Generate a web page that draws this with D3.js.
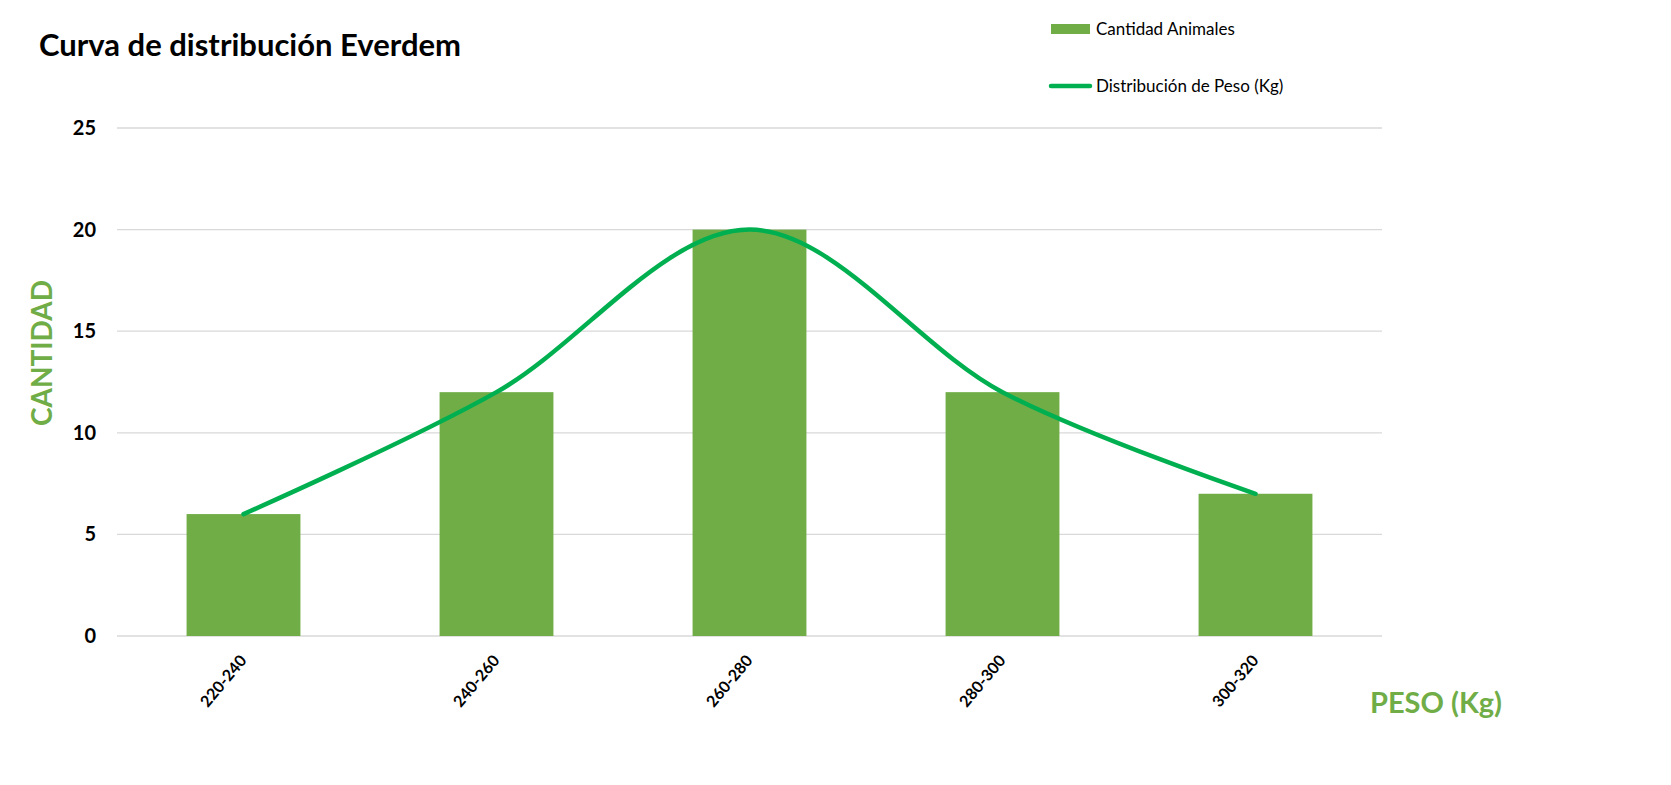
<!DOCTYPE html>
<html>
<head>
<meta charset="utf-8">
<script src="https://cdn.jsdelivr.net/npm/d3@7/dist/d3.min.js"></script>
<style>
  html, body { margin: 0; padding: 0; background: #fff; }
  svg { display: block; font-family: Lato, "Open Sans", sans-serif; }
</style>
</head>
<body>
<svg id="chart" width="1671" height="785"></svg>
<script>
const categories = ["220-240", "240-260", "260-280", "280-300", "300-320"];
const cantidad = [6, 12, 20, 12, 7];
const distribucion = [6, 12, 20, 12, 7];
const yTicks = [0, 5, 10, 15, 20, 25];
const title = "Curva de distribución Everdem";
const seriesNames = ["Cantidad Animales", "Distribución de Peso (Kg)"];
const yTitle = "CANTIDAD";
const xTitle = "PESO (Kg)";

const barColor = "#70AD47";
const lineColor = "#00B050";
const gridColor = "#D9D9D9";

const svg = d3.select("#chart");
const plot = { left: 117, right: 1382, top: 128, bottom: 636 };

const x = d3.scaleBand().domain(categories).range([plot.left, plot.right])
  .paddingInner(0.55).paddingOuter(0.275);
const y = d3.scaleLinear().domain([0, 25]).range([plot.bottom, plot.top]);

// Title
svg.append("text").attr("x", 39).attr("y", 56)
  .attr("font-size", 31).attr("font-weight", 700).attr("fill", "#000")
  .text(title);

// Gridlines
svg.append("g").selectAll("line").data(yTicks).join("line")
  .attr("x1", plot.left).attr("x2", plot.right)
  .attr("y1", d => y(d)).attr("y2", d => y(d))
  .attr("stroke", gridColor).attr("stroke-width", 1.3);

// Y axis labels
const yAxis = svg.append("g").attr("transform", `translate(${plot.left - 21},0)`)
  .call(d3.axisLeft(y).tickValues(yTicks).tickSize(0).tickPadding(0));
yAxis.select(".domain").remove();
yAxis.selectAll("text").attr("font-family", "Lato, sans-serif")
  .attr("font-size", 20).attr("font-weight", 700).attr("fill", "#000");

// Bars
svg.append("g").selectAll("rect").data(cantidad).join("rect")
  .attr("x", (d, i) => x(categories[i]))
  .attr("width", x.bandwidth())
  .attr("y", d => y(d))
  .attr("height", d => y(0) - y(d))
  .attr("fill", barColor);

// Smooth line
const line = d3.line()
  .x((d, i) => x(categories[i]) + x.bandwidth() / 2)
  .y(d => y(d))
  .curve(d3.curveCatmullRom.alpha(0));
svg.append("path").datum(distribucion)
  .attr("d", line).attr("fill", "none")
  .attr("stroke", lineColor).attr("stroke-width", 4.5)
  .attr("stroke-linecap", "round").attr("stroke-linejoin", "round");

// X axis labels
const xAxis = svg.append("g").attr("transform", `translate(0,${plot.bottom})`)
  .call(d3.axisBottom(x).tickSize(0).tickPadding(0));
xAxis.select(".domain").remove();
xAxis.selectAll("text")
  .attr("font-family", "Lato, sans-serif")
  .attr("font-size", 16).attr("font-weight", 700).attr("fill", "#000")
  .attr("text-anchor", "end")
  .attr("dy", 0)
  .attr("transform", "translate(4,25) rotate(-50)");

// Axis titles
svg.append("text")
  .attr("transform", "translate(52,353) rotate(-90)")
  .attr("text-anchor", "middle")
  .attr("font-size", 28).attr("font-weight", 700).attr("fill", barColor)
  .text(yTitle);
svg.append("text").attr("x", 1436).attr("y", 713)
  .attr("text-anchor", "middle")
  .attr("font-size", 29).attr("font-weight", 700).attr("fill", barColor)
  .text(xTitle);

// Legend
const lg = svg.append("g");
lg.append("rect").attr("x", 1051).attr("y", 24).attr("width", 39).attr("height", 10)
  .attr("fill", barColor);
lg.append("text").attr("x", 1096).attr("y", 35)
  .attr("font-size", 17).attr("fill", "#000").text(seriesNames[0]);
lg.append("line").attr("x1", 1051).attr("x2", 1090).attr("y1", 86).attr("y2", 86)
  .attr("stroke", lineColor).attr("stroke-width", 4.5).attr("stroke-linecap", "round");
lg.append("text").attr("x", 1096).attr("y", 92)
  .attr("font-size", 17).attr("fill", "#000").text(seriesNames[1]);
</script>
</body>
</html>
